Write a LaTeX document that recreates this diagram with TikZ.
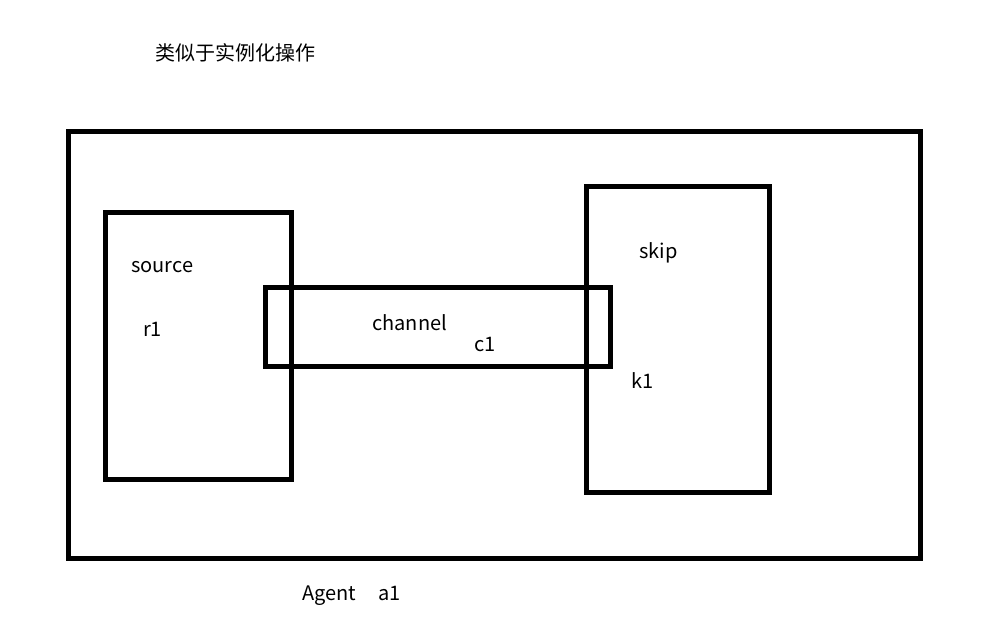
\documentclass[tikz,border=0pt]{standalone}
\usepackage{fontspec}
\setmainfont{Noto Sans CJK SC}
\begin{document}
\begin{tikzpicture}[x=1pt,y=-1pt,
  box/.style={draw=black,line width=5pt,miter limit=10},
  lbl/.style={anchor=base west,inner sep=0pt,font=\fontsize{20}{24}\selectfont}]
\useasboundingbox (0,0) rectangle (1005,638);
\draw[box] (68,131) rectangle (920,558);
\draw[box] (105,212) rectangle (291,479);
\draw[box] (586.5,186.5) rectangle (769,492);
\draw[box] (265.5,287.5) rectangle (610,366);
\node[lbl] (title) at (155,60) {类似于实例化操作};
\node[lbl] (src) at (131,272) {source};
\node[lbl] (r1) at (143,336) {r1};
\node[lbl] (ch) at (372,330) {channel};
\node[lbl] (c1) at (474,351) {c1};
\node[lbl] (skip) at (639,258) {skip};
\node[lbl] (k1) at (631,388) {k1};
\node[lbl] (agent) at (302,600) {Agent\hspace{22pt}a1};
\end{tikzpicture}
\end{document}
